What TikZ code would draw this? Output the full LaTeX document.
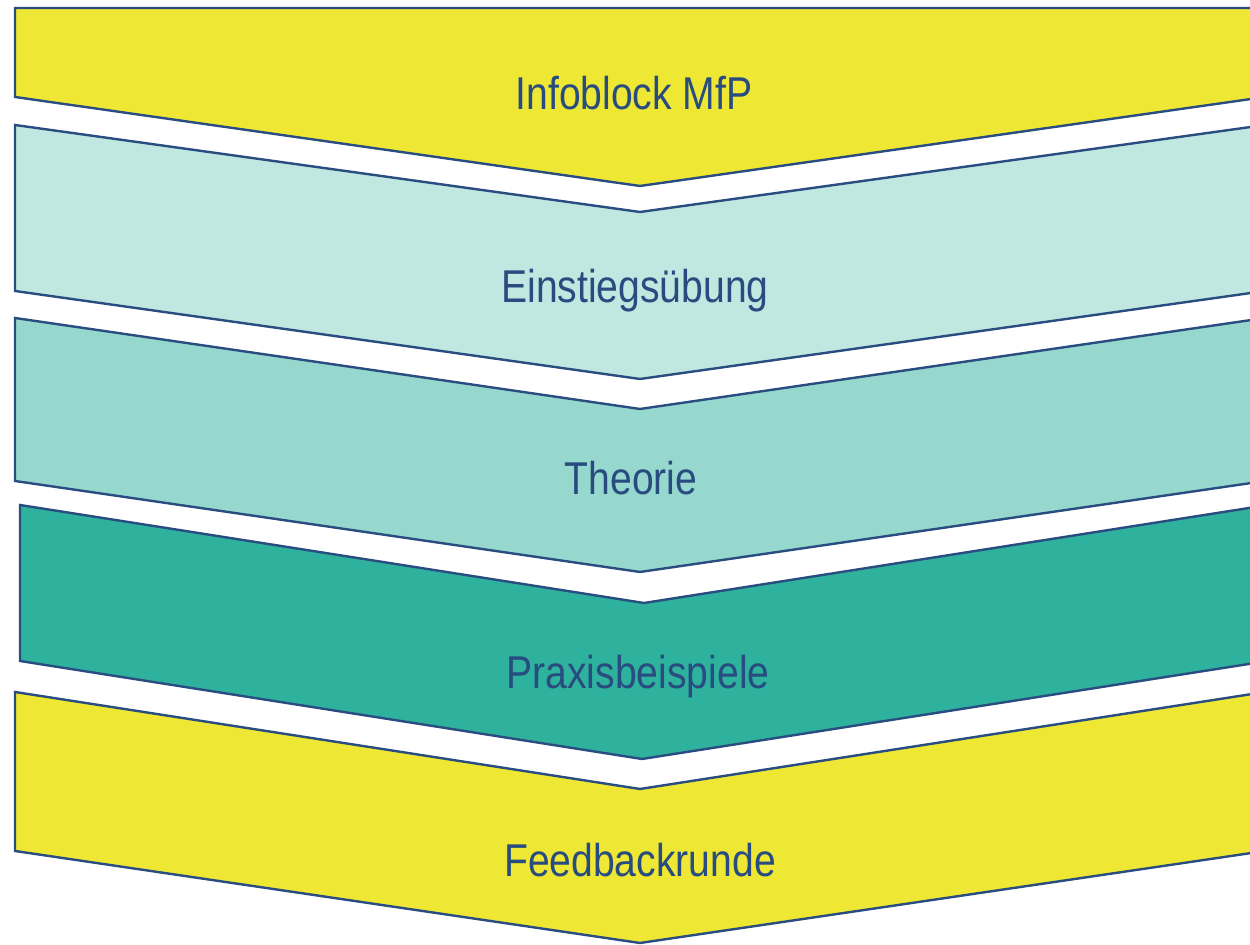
\documentclass[tikz,border=0pt]{standalone}
\usepackage{fontspec}
\setmainfont{Liberation Sans}
\usepackage{graphicx}
\definecolor{gelb}{HTML}{EEE834}
\definecolor{tuerkishell}{HTML}{C0E8E0}
\definecolor{tuerkismittel}{HTML}{97D8CE}
\definecolor{tuerkisdunkel}{HTML}{2EB29D}
\definecolor{rand}{HTML}{294D80}
\definecolor{schrift}{HTML}{284C7F}
\tikzset{
	stufe/.style={draw=rand, line width=1.2pt, line join=miter},
	titel/.style={anchor=base, inner sep=0pt, text=schrift, font=\fontsize{23}{27}\selectfont}
}
\def\stufentext#1{\scalebox{0.85}[1]{#1}}

\begin{document}
\begin{tikzpicture}[x=0.5pt, y=-0.5pt]
			%%%%% START %%%%%
			
			\useasboundingbox (0, 0) rectangle (1250, 945);
			\clip (0, 0) rectangle (1250, 945);
			
			% Infoblock
			\draw[stufe, fill=gelb] (15, 8) -- (1265, 8) -- (1265, 97) -- (640, 186) -- (15, 97) -- cycle;
			
			% Einstieg
			\draw[stufe, fill=tuerkishell] (15, 125) -- (640, 212) -- (1265, 125) -- (1265, 291) -- (640, 379) -- (15, 291) -- cycle;
			
			% Theorie
			\draw[stufe, fill=tuerkismittel] (15, 318) -- (640, 409) -- (1265, 318) -- (1265, 481) -- (640, 572) -- (15, 481) -- cycle;
			
			% Praxis
			\draw[stufe, fill=tuerkisdunkel] (20, 505) -- (644, 603) -- (1268, 505) -- (1268, 661) -- (642, 759) -- (20, 661) -- cycle;
			
			% Feedback
			\draw[stufe, fill=gelb] (15, 692) -- (640, 789) -- (1265, 692) -- (1265, 851) -- (640, 943) -- (15, 851) -- cycle;
			
			\node[titel] (infoblock) at (634, 110) {\stufentext{Infoblock MfP}};
			\node[titel] (einstieg) at (635, 303) {\stufentext{Einstiegsübung}};
			\node[titel] (theorie) at (631, 495) {\stufentext{Theorie}};
			\node[titel] (praxis) at (638, 689) {\stufentext{Praxisbeispiele}};
			\node[titel] (feedback) at (640, 877) {\stufentext{Feedbackrunde}};
			
			%%%%% END %%%%%
		\end{tikzpicture}
\end{document}
